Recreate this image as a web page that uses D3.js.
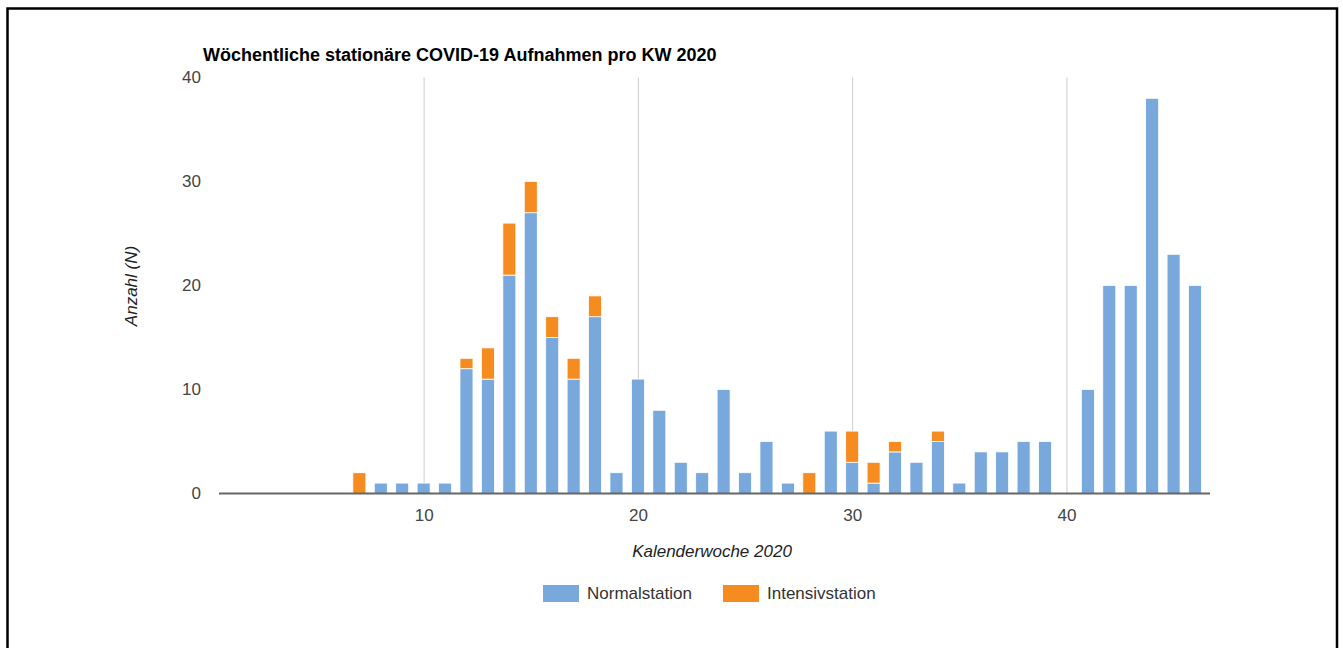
<!DOCTYPE html>
<html>
<head>
<meta charset="utf-8">
<script src="https://cdn.jsdelivr.net/npm/d3@7.9.0/dist/d3.min.js"></script>
<style>
  body { margin: 0; background: #fff; }
  svg { display: block; font-family: "Liberation Sans", Arial, sans-serif; }
</style>
</head>
<body>
<div id="chart"></div>
<script>
const weeks = d3.range(7, 47);
const normalstation = [0, 1, 1, 1, 1, 12, 11, 21, 27, 15, 11, 17, 2, 11, 8, 3, 2, 10, 2, 5,
                       1, 0, 6, 3, 1, 4, 3, 5, 1, 4, 4, 5, 5, 0, 10, 20, 20, 38, 23, 20];
const intensivstation = [2, 0, 0, 0, 0, 1, 3, 5, 3, 2, 2, 2, 0, 0, 0, 0, 0, 0, 0, 0,
                         0, 2, 0, 3, 2, 1, 0, 1, 0, 0, 0, 0, 0, 0, 0, 0, 0, 0, 0, 0];
const seriesNames = ["Normalstation", "Intensivstation"];
const colors = ["#78a8dc", "#f68b1f"];
const xTicks = [10, 20, 30, 40];
const yTicks = [0, 10, 20, 30, 40];

const width = 1343, height = 648;

const rows = weeks.map((w, i) => ({ week: w, Normalstation: normalstation[i], Intensivstation: intensivstation[i] }));
const stacked = d3.stack().keys(seriesNames)(rows);

const x = d3.scaleLinear().domain([0.45, 46.7]).range([219, 1210]);
const y = d3.scaleLinear().domain([0, 40]).range([493.5, 77.5]);
const barW = 13;

const svg = d3.select("#chart").append("svg")
    .attr("width", width)
    .attr("height", height);

// frame (open at the bottom)
svg.append("path")
    .attr("d", "M7.5,648 V8.5 H1337 V648")
    .attr("fill", "none")
    .attr("stroke", "#000")
    .attr("stroke-width", 2.5);

// title
svg.append("text")
    .attr("x", 203)
    .attr("y", 61)
    .style("font-size", "18px")
    .style("font-weight", "bold")
    .attr("fill", "#000")
    .text("Wöchentliche stationäre COVID-19 Aufnahmen pro KW 2020");

// vertical gridlines + x tick labels
const xAxis = svg.append("g")
    .attr("transform", `translate(0,${y(0)})`)
    .call(d3.axisBottom(x).tickValues(xTicks).tickSize(-(y(0) - y(40))).tickFormat(d3.format("d")));
xAxis.select(".domain").remove();
xAxis.selectAll(".tick line").attr("stroke", "#cccccc").attr("stroke-width", 1);
xAxis.selectAll(".tick text")
    .attr("y", 27)
    .attr("dy", 0)
    .attr("fill", "#444")
    .style("font-size", "17px")
    .style("font-family", "'Liberation Sans', Arial, sans-serif");

// y tick labels
const yAxis = svg.append("g")
    .attr("transform", "translate(201,0)")
    .call(d3.axisLeft(y).tickValues(yTicks).tickSize(0).tickPadding(0).tickFormat(d3.format("d")));
yAxis.select(".domain").remove();
yAxis.selectAll(".tick text")
    .attr("fill", "#444")
    .style("font-size", "17px")
    .style("font-family", "'Liberation Sans', Arial, sans-serif");

// bars
svg.append("g")
    .selectAll("g")
    .data(stacked)
    .join("g")
    .attr("fill", (d, i) => colors[i])
    .selectAll("rect")
    .data(d => d.filter(s => s[1] - s[0] > 0))
    .join("rect")
    .attr("x", d => x(d.data.week) - barW / 2)
    .attr("y", d => y(d[1]))
    .attr("width", barW)
    .attr("height", d => y(d[0]) - y(d[1]))
    .attr("stroke", "#fff")
    .attr("stroke-width", 0.8);

// baseline
svg.append("line")
    .attr("x1", x.range()[0])
    .attr("x2", x.range()[1])
    .attr("y1", y(0))
    .attr("y2", y(0))
    .attr("stroke", "#666")
    .attr("stroke-width", 2);

// axis titles
svg.append("text")
    .attr("x", 712)
    .attr("y", 557)
    .attr("text-anchor", "middle")
    .style("font-size", "17px")
    .style("font-style", "italic")
    .attr("fill", "#222")
    .text("Kalenderwoche 2020");

svg.append("text")
    .attr("transform", "translate(137,286) rotate(-90)")
    .attr("text-anchor", "middle")
    .style("font-size", "17px")
    .style("font-style", "italic")
    .attr("fill", "#222")
    .text("Anzahl (N)");

// legend
const legend = svg.append("g");
const legendX = [543, 723];
seriesNames.forEach((name, i) => {
    legend.append("rect")
        .attr("x", legendX[i])
        .attr("y", 585)
        .attr("width", 36)
        .attr("height", 17)
        .attr("fill", colors[i]);
    legend.append("text")
        .attr("x", legendX[i] + 44)
        .attr("y", 599)
        .style("font-size", "17px")
        .attr("fill", "#333")
        .text(name);
});
</script>
</body>
</html>
